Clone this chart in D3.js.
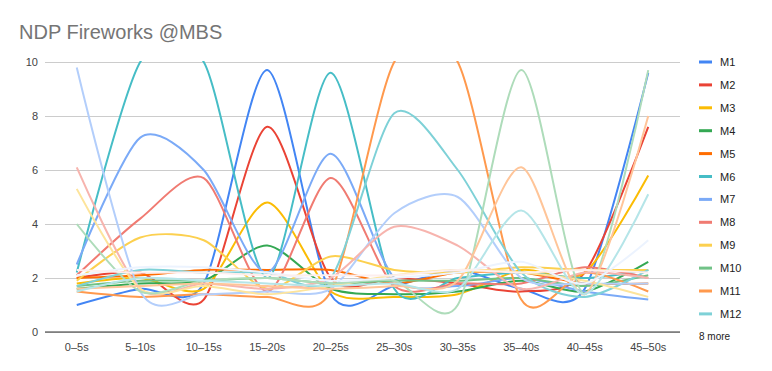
<!DOCTYPE html>
<html>
<head>
<meta charset="UTF-8">
<title>NDP Fireworks @MBS</title>
<script src="https://d3js.org/d3.v7.min.js"></script>
<style>
  body { margin: 0; background: #fff; font-family: "Liberation Sans", Arial, sans-serif; }
  .title { font-size: 20px; fill: #757575; }
  .tick text { font-size: 11px; fill: #444; }
  .legend text { font-size: 11px; fill: #222; }
  .series { fill: none; stroke-width: 2; }
</style>
</head>
<body>
<div id="chart"></div>
<script>
// chart data
const categories = ["0\u20135s", "5\u201310s", "10\u201315s", "15\u201320s", "20\u201325s",
                    "25\u201330s", "30\u201335s", "35\u201340s", "40\u201345s", "45\u201350s"];
const seriesNames = ["M1","M2","M3","M4","M5","M6","M7","M8","M9","M10",
                     "M11","M12","M13","M14","M15","M16","M17","M18","M19","M20"];
const M1  = [1.0, 1.6, 1.8, 9.7, 1.4, 1.7, 2.3, 1.6, 1.6, 9.6];
const M2  = [2.0, 2.2, 1.2, 7.6, 2.0, 2.0, 1.8, 1.5, 2.2, 7.6];
const M3  = [1.8, 2.0, 1.6, 4.8, 1.5, 1.3, 1.4, 2.3, 2.2, 5.8];
const M4  = [1.6, 1.8, 1.9, 3.2, 1.6, 1.4, 1.5, 1.9, 1.5, 2.6];
const M5  = [2.0, 2.1, 2.3, 2.3, 2.3, 1.8, 2.2, 2.2, 1.8, 1.8];
const M6  = [2.2, 10, 10, 2.0, 9.6, 1.6, 2.0, 2.2, 2.0, 2.3];
const M7  = [2.5, 7.2, 6.0, 2.2, 6.6, 2.0, 1.7, 2.0, 1.5, 1.2];
const M8  = [2.1, 4.2, 5.7, 1.5, 5.7, 1.7, 1.8, 1.8, 2.4, 2.0];
const M9  = [1.9, 3.5, 3.4, 1.6, 2.8, 2.3, 2.2, 2.4, 2.3, 2.3];
const M10 = [1.7, 1.9, 1.9, 2.0, 1.8, 1.9, 1.9, 2.0, 1.7, 2.1];
const M11 = [1.5, 1.3, 1.4, 1.3, 1.5, 10, 10, 1.2, 2.2, 1.5];
const M12 = [1.7, 2.3, 2.2, 2.2, 2.0, 8.1, 6.0, 2.2, 1.3, 2.3];
const M13 = [9.8, 1.5, 1.4, 1.5, 1.6, 4.4, 5.0, 2.0, 1.8, 1.8];
const M14 = [6.1, 1.6, 1.8, 1.6, 2.0, 3.9, 3.2, 1.6, 2.2, 2.0];
const M15 = [5.3, 1.6, 1.7, 1.4, 1.7, 2.1, 2.3, 2.2, 1.9, 1.3];
const M16 = [4.0, 1.5, 1.9, 2.0, 1.8, 1.9, 1.0, 9.7, 1.4, 9.7];
const M17 = [1.6, 1.7, 1.8, 1.7, 1.6, 1.7, 1.9, 6.1, 1.4, 8.0];
const M18 = [1.5, 2.0, 1.9, 1.8, 1.7, 1.8, 1.6, 4.5, 1.4, 5.1];
const M19 = [2.1, 2.4, 2.4, 2.2, 1.9, 2.0, 2.2, 2.6, 1.8, 3.4];
const M20 = [2.3, 2.2, 2.2, 2.1, 2.1, 2.1, 2.3, 2.2, 2.3, 2.2];
const seriesValues = [M1,M2,M3,M4,M5,M6,M7,M8,M9,M10,M11,M12,M13,M14,M15,M16,M17,M18,M19,M20];
const colors = ["#4285f4","#ea4335","#fbbc04","#34a853","#ff6d01","#46bdc6","#7baaf7","#f07b72",
                "#fcd04f","#71c287","#ff994d","#7ed1d7","#b3cefb","#f7b4ae","#fde49b","#aedcba",
                "#ffc599","#b5e5e8","#ecf3fe","#fdeeed"];
const yTicks = [0, 2, 4, 6, 8, 10];
const legendShown = 12;

const width = 772, height = 371;
const margin = {top: 62, right: 92, bottom: 39, left: 45};

const svg = d3.select("#chart").append("svg")
  .attr("width", width)
  .attr("height", height);

svg.append("text")
  .attr("class", "title")
  .attr("x", 19)
  .attr("y", 39)
  .text("NDP Fireworks @MBS");

const x = d3.scaleBand()
  .domain(categories)
  .range([margin.left, width - margin.right]);

const y = d3.scaleLinear()
  .domain([0, 10])
  .range([height - margin.bottom, margin.top]);

// gridlines + y labels
const yAxis = svg.append("g")
  .attr("transform", "translate(" + margin.left + ",0)")
  .call(d3.axisLeft(y).tickValues(yTicks).tickSize(-(width - margin.right - margin.left)).tickPadding(7));
yAxis.select(".domain").remove();
yAxis.selectAll(".tick line").attr("stroke", "#cccccc");

// x axis labels
const xAxis = svg.append("g")
  .attr("transform", "translate(0," + (height - margin.bottom) + ")")
  .call(d3.axisBottom(x).tickSize(0).tickPadding(11));
xAxis.select(".domain").remove();

svg.append("clipPath").attr("id", "plot-clip")
  .append("rect")
    .attr("x", margin.left)
    .attr("y", margin.top - 1)
    .attr("width", width - margin.right - margin.left)
    .attr("height", height - margin.bottom - margin.top + 1);

const line = d3.line()
  .x((d, i) => x(categories[i]) + x.bandwidth() / 2)
  .y(d => y(d))
  .curve(d3.curveCardinal.tension(0.2));

svg.append("g")
  .attr("clip-path", "url(#plot-clip)")
  .selectAll("path")
  .data(seriesValues)
  .join("path")
    .attr("class", "series")
    .attr("stroke", (d, i) => colors[i])
    .attr("d", line);

// baseline
svg.append("line")
  .attr("x1", margin.left)
  .attr("x2", width - margin.right)
  .attr("y1", y(0))
  .attr("y2", y(0))
  .attr("stroke", "#333")
  .attr("stroke-width", 1);

// legend
const legend = svg.append("g").attr("class", "legend");
const items = legend.selectAll("g")
  .data(seriesNames.slice(0, legendShown))
  .join("g")
    .attr("transform", (d, i) => "translate(699," + (62 + i * 22.9) + ")");
items.append("rect")
  .attr("x", 0).attr("y", -1.5)
  .attr("width", 13).attr("height", 3)
  .attr("fill", (d, i) => colors[i]);
items.append("text")
  .attr("x", 21).attr("y", 4)
  .text(d => d);
legend.append("text")
  .attr("x", 699)
  .attr("y", 62 + legendShown * 22.9 + 3)
  .style("font-size", "10px")
  .text((seriesNames.length - legendShown) + " more");
</script>
</body>
</html>
